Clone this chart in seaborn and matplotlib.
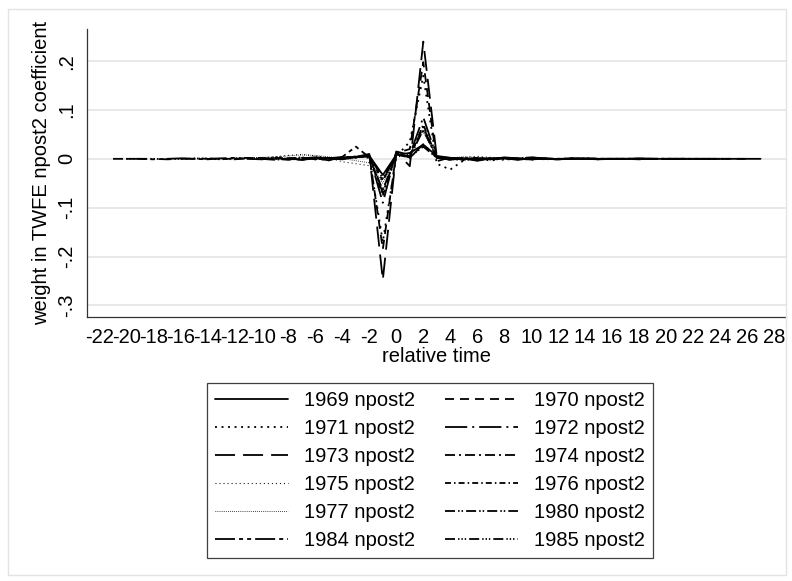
import pandas as pd
import matplotlib
matplotlib.use("Agg")
import matplotlib.pyplot as plt
from matplotlib.patches import Rectangle
import seaborn as sns

# cohorts (treatment year) and the panel years they are observed in
cohorts = [1969, 1970, 1971, 1972, 1973, 1974, 1975, 1976, 1977, 1980, 1984, 1985]
first_year = 1964
last_year = 1996

# weights by relative time (t = first_year-cohort ... last_year-cohort)
w1969 = [0.001, 0.002, 0.003, 0.006, -0.033, 0.008, 0.012, 0.029, 0.006, 0.002,
         0.001, -0.001, 0.000, 0.001, -0.002, 0.001, 0.000, -0.001, 0.001, 0.000,
         -0.001, 0.000, 0.000, 0.001, 0.000, 0.000, 0.000, 0.000, 0.000, 0.000, 0.000, 0.000, 0.000]
w1970 = [0.001, -0.002, 0.002, 0.004, 0.008, -0.185, 0.012, 0.020, 0.198, -0.005,
         0.003, -0.002, 0.002, -0.001, 0.002, 0.000, -0.001, 0.001, 0.000, 0.000,
         0.001, 0.000, 0.000, 0.000, -0.001, 0.000, 0.000, 0.000, 0.000, 0.000, 0.000, 0.000, 0.000]
w1971 = [0.002, 0.001, -0.003, 0.003, 0.005, 0.002, -0.170, 0.005, 0.035, 0.170,
         -0.010, -0.022, -0.003, 0.002, -0.004, 0.002, 0.001, -0.002, 0.001, 0.000,
         0.001, 0.000, -0.001, 0.000, 0.000, 0.000, 0.000, 0.000, 0.000, 0.000, 0.000, 0.000, 0.000]
w1972 = [0.001, -0.002, 0.001, 0.002, -0.001, 0.004, 0.007, -0.090, 0.015, 0.008,
         0.085, 0.004, -0.002, 0.001, -0.004, 0.001, 0.002, -0.001, 0.003, 0.001,
         -0.001, 0.000, 0.001, 0.000, 0.000, 0.000, 0.000, 0.000, 0.000, 0.000, 0.000, 0.000, 0.000]
w1973 = [0.002, -0.001, 0.001, 0.003, -0.002, 0.002, 0.004, 0.010, -0.248, 0.014,
         -0.015, 0.240, 0.004, 0.002, -0.002, 0.001, -0.001, 0.003, 0.001, 0.003,
         0.000, -0.001, 0.001, 0.000, 0.000, 0.000, 0.000, 0.000, 0.000, 0.000, 0.000, 0.000, 0.000]
w1974 = [0.001, 0.000, -0.002, 0.002, 0.001, -0.003, 0.003, 0.002, 0.006, -0.070,
         0.010, 0.006, 0.065, 0.002, 0.001, -0.003, 0.002, 0.000, -0.002, 0.001,
         0.002, 0.000, -0.001, 0.000, 0.001, 0.000, 0.000, 0.000, 0.000, 0.000, 0.000, 0.000, 0.000]
w1975 = [0.001, 0.002, 0.004, 0.007, 0.009, 0.006, 0.002, -0.006, -0.010, -0.014,
         -0.060, 0.003, 0.010, 0.058, 0.004, 0.002, 0.003, 0.005, 0.003, 0.001,
         0.002, 0.000, 0.001, 0.000, 0.000, 0.000, 0.000, 0.000, 0.000, 0.000, 0.000, 0.000, 0.000]
w1976 = [0.000, 0.001, -0.001, 0.002, 0.000, -0.002, 0.003, 0.001, -0.001, 0.004,
         0.005, -0.075, 0.012, 0.004, 0.070, 0.003, -0.002, 0.001, -0.003, 0.002,
         0.001, 0.000, 0.002, -0.001, 0.000, 0.000, 0.000, 0.000, 0.000, 0.000, 0.000, 0.000, 0.000]
w1977 = [0.000, 0.001, 0.002, 0.003, 0.004, 0.006, 0.008, 0.007, 0.004, 0.001,
         -0.004, -0.008, -0.050, 0.006, 0.012, 0.055, 0.003, 0.002, 0.004, 0.003,
         0.002, 0.001, 0.000, 0.001, 0.000, 0.000, 0.000, 0.000, 0.000, 0.000, 0.000, 0.000, 0.000]
w1980 = [0.000, 0.001, 0.000, -0.001, 0.001, 0.002, 0.000, -0.002, 0.001, 0.003,
         -0.001, 0.002, 0.000, 0.004, 0.006, -0.065, 0.011, 0.003, 0.060, 0.002,
         -0.001, 0.002, -0.003, 0.001, 0.002, -0.001, 0.001, 0.000, 0.000, 0.000, 0.000, 0.000, 0.000]
w1984 = [0.000, 0.000, -0.001, 0.000, 0.001, 0.000, -0.001, 0.001, 0.002, 0.000,
         -0.001, 0.002, 0.001, -0.002, 0.003, 0.001, 0.004, 0.025, 0.003, -0.045,
         0.010, 0.002, 0.030, 0.002, 0.000, -0.002, 0.001, 0.000, 0.001, 0.000, -0.001, 0.000, 0.000]
w1985 = [0.000, 0.000, 0.000, 0.000, -0.001, 0.000, 0.000, 0.001, 0.000, -0.001,
         0.001, 0.002, -0.001, 0.000, 0.002, -0.001, 0.001, 0.002, 0.004, 0.006,
         -0.040, 0.008, 0.004, 0.025, 0.002, -0.001, 0.001, 0.000, -0.001, 0.000, 0.001, 0.000, 0.000]

weights = [w1969, w1970, w1971, w1972, w1973, w1974, w1975, w1976, w1977, w1980, w1984, w1985]

xtick_vals = list(range(-22, 29, 2))
ytick_vals = [-0.3, -0.2, -0.1, 0.0, 0.1, 0.2]
ytick_labels = ['-.3', '-.2', '-.1', '0', '.1', '.2']

# Stata-like line patterns (points, not scaled by width)
styles = {
    1969: ('-', 1.3),
    1970: ((0, (6.5, 4.3)), 1.3),
    1971: ((0, (1.4, 3.3)), 1.3),
    1972: ((0, (16, 3.6, 1.4, 3.6)), 1.3),
    1973: ((0, (14.4, 5.8)), 1.3),
    1974: ((0, (7.2, 2.9, 1.4, 2.9)), 1.3),
    1975: ((0, (0.7, 2.2)), 0.8),
    1976: ((0, (4.3, 2.2, 1.1, 2.2)), 1.3),
    1977: ((0, (0.5, 1.0)), 0.7),
    1980: ((0, (7.2, 2.2, 1.1, 1.4, 1.1, 2.2)), 1.3),
    1984: ((0, (14.4, 2.9, 2.9, 2.9, 2.9, 2.9)), 1.3),
    1985: ((0, (7.2, 2.2, 1.0, 1.4, 1.0, 1.4, 1.0, 2.2)), 1.3),
}

rows = []
for c, w in zip(cohorts, weights):
    for t, v in zip(range(first_year - c, last_year - c + 1), w):
        rows.append({'cohort': c, 'rel_time': t, 'weight': v})
df = pd.DataFrame(rows)

sns.set_style('white')
plt.rcParams['font.family'] = ['Liberation Sans', 'DejaVu Sans']
plt.rcParams['font.size'] = 14.5
plt.rcParams['lines.scale_dashes'] = False
plt.rcParams['text.color'] = 'black'
plt.rcParams['axes.labelcolor'] = 'black'
plt.rcParams['xtick.color'] = 'black'
plt.rcParams['ytick.color'] = 'black'

fig = plt.figure(figsize=(7.92, 5.81), dpi=100)
ax = fig.add_axes([87 / 792, 1 - 317 / 581, (786 - 87) / 792, (317 - 29) / 581])

handles = {}
for c in cohorts:
    ls, lw = styles[c]
    sns.lineplot(data=df[df['cohort'] == c], x='rel_time', y='weight', ax=ax,
                 color='black', linewidth=lw, linestyle=ls, legend=False)
    handles[c] = ax.lines[-1]

ax.set_xlim(-22.93, 28.89)
ax.set_ylim(-0.3238, 0.2658)
ax.set_xticks(xtick_vals)
ax.set_xticklabels([str(v) for v in xtick_vals])
ax.set_yticks(ytick_vals)
ax.set_yticklabels(ytick_labels, rotation=90, va='center')
ax.grid(axis='y', color='#e6e6e6', linewidth=1.3)
ax.grid(axis='x', visible=False)
ax.set_axisbelow(True)
for s in ['top', 'right']:
    ax.spines[s].set_visible(False)
for s in ['left', 'bottom']:
    ax.spines[s].set_color('#333333')
    ax.spines[s].set_linewidth(0.9)
ax.tick_params(direction='out', length=5, width=0.9, color='#333333', pad=3, labelsize=14.5)
ax.set_xlabel('relative time', fontsize=14.5, labelpad=0)
ax.set_ylabel('weight in TWFE npost2 coefficient', fontsize=14.5, labelpad=4)

# legend filled row by row like Stata: 1969 1970 / 1971 1972 / ...
order = [1969, 1971, 1973, 1975, 1977, 1984, 1970, 1972, 1974, 1976, 1980, 1985]
leg = fig.legend([handles[c] for c in order], [f'{c} npost2' for c in order],
                 ncol=2, loc='upper center', bbox_to_anchor=(430 / 792, 1 - 383 / 581),
                 frameon=True, fancybox=False, edgecolor='#404040', framealpha=1,
                 handlelength=3.6, handletextpad=0.8, columnspacing=1.5,
                 labelspacing=0.45, borderpad=0.4, borderaxespad=0, fontsize=14.5)
leg.get_frame().set_linewidth(0.9)

# outer graph-region border
fig.patches.append(Rectangle((8 / 792, 1 - 575 / 581), (786 - 8) / 792, (575 - 9) / 581,
                             transform=fig.transFigure, fill=False,
                             edgecolor='#e3e3e3', linewidth=1.0))

fig.savefig('out.png', dpi=100)
